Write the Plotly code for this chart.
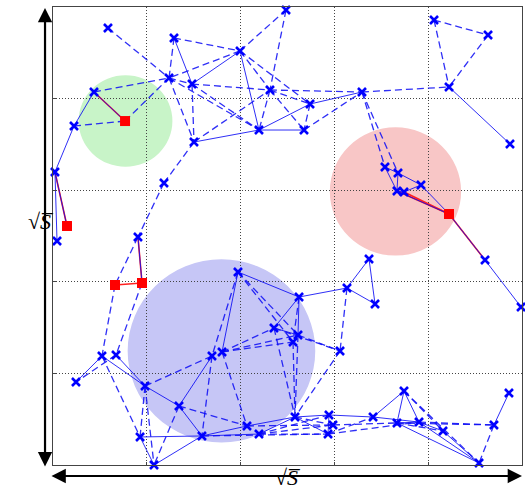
import plotly.graph_objects as go

# ---- data (node positions in grid units, 0..5 on both axes) ----
node_x = [0.586, 1.290, 1.994, 1.237, 1.482, 0.437, 0.224, 1.503, 2.196, 0.021,
          1.183, 0.043, 0.906, 2.484, 2.313, 2.740, 2.676, 3.294, 4.062, 4.638,
          4.222, 4.872, 3.539, 3.678, 3.923, 3.667, 4.606, 4.990, 1.972, 0.522,
          0.672, 0.245, 0.981, 1.695, 1.802, 1.343, 0.928, 1.588, 1.077, 2.068,
          2.196, 3.369, 3.134, 3.433, 2.623, 2.356, 2.612, 2.559, 3.060, 2.580,
          2.942, 2.985, 2.932, 3.412, 3.742, 3.667, 3.902, 4.158, 4.701, 4.861,
          4.542, 3.742]
node_y = [4.771, 4.662, 4.520, 4.225, 4.159, 4.072, 3.701, 3.526, 3.657, 3.199,
          3.079, 2.445, 2.489, 4.967, 4.094, 3.941, 3.657, 4.072, 4.858, 4.694,
          4.127, 3.504, 3.253, 3.188, 3.057, 2.991, 2.238, 1.725, 2.107, 1.190,
          1.201, 0.906, 0.862, 1.190, 1.234, 0.644, 0.306, 0.317, 0.000, 0.426,
          0.338, 2.249, 1.932, 1.758, 1.834, 1.496, 1.419, 1.343, 1.245, 0.524,
          0.546, 0.437, 0.338, 0.524, 0.808, 0.459, 0.469, 0.371, 0.437, 0.786,
          0.022, 2.980]

# red square nodes (numbered 63..67 after the blue nodes)
red_x = [0.768, 0.149, 0.661, 0.949, 4.222]
red_y = [3.755, 2.609, 1.965, 1.987, 2.740]

# circular regions: centre x, centre y, radius
circle_cx = [0.773, 3.651, 1.796]
circle_cy = [3.755, 2.986, 1.245]
circle_r = [0.50, 0.70, 1.00]
circle_colors = ["#c8f4c8", "#f8c6c6", "#c6c6f6"]

# edges (1-based node numbers)
solid_edges = [(2, 5), (3, 5), (3, 9), (6, 7), (7, 10), (10, 12), (8, 9), (9, 17), (9, 16),
               (16, 18), (21, 22), (23, 24), (23, 26), (24, 25), (24, 26), (25, 62), (26, 62),
               (27, 28), (29, 45), (29, 35), (42, 43), (42, 44), (43, 44), (43, 45), (45, 46),
               (45, 47), (46, 47), (30, 32), (30, 33), (31, 33), (33, 36), (36, 38), (37, 38),
               (37, 39), (38, 39), (34, 36), (38, 40), (38, 41), (40, 50), (41, 50), (50, 51),
               (51, 54), (51, 53), (50, 53), (54, 55), (55, 56), (55, 57), (56, 57), (54, 57),
               (57, 58), (58, 61), (57, 61), (56, 61), (59, 60), (67, 25), (67, 27), (6, 63),
               (13, 66), (10, 64), (67, 26)]
dashed_edges = [(1, 4), (2, 3), (2, 4), (3, 4), (3, 14), (3, 15), (3, 16), (14, 15), (4, 5),
                (4, 8), (5, 8), (5, 15), (15, 18), (4, 9), (5, 9), (8, 15), (15, 16), (15, 9),
                (15, 17), (16, 17), (17, 18), (6, 4), (7, 63), (63, 4), (8, 11), (11, 13),
                (13, 65), (65, 30), (66, 31), (19, 20), (19, 21), (20, 21), (18, 21), (18, 23),
                (18, 24), (29, 34), (29, 47), (29, 48), (35, 46), (35, 48), (35, 47), (46, 49),
                (47, 49), (43, 49), (49, 50), (46, 50), (47, 50), (48, 50), (45, 48), (31, 32),
                (30, 37), (33, 37), (33, 39), (33, 34), (36, 39), (34, 38), (36, 40), (35, 40),
                (41, 52), (41, 53), (40, 52), (41, 51), (52, 56), (53, 57), (53, 54), (55, 58),
                (56, 59), (57, 59), (59, 61), (56, 58), (38, 53), (50, 52), (55, 61)]
red_edges = [(6, 63), (10, 64), (65, 66), (13, 66), (67, 26), (67, 62), (67, 27)]

axis_label = "√<i>S\u0305</i>"

# ---- build ----
all_x = node_x + red_x
all_y = node_y + red_y


def segs(edges):
    xs, ys = [], []
    for a, b in edges:
        xs += [all_x[a - 1], all_x[b - 1], None]
        ys += [all_y[a - 1], all_y[b - 1], None]
    return xs, ys


fig = go.Figure()

rx, ry = segs(red_edges)
fig.add_trace(go.Scatter(x=rx, y=ry, mode="lines",
                         line=dict(color="#ff2020", width=1.6), hoverinfo="skip"))
sx, sy = segs(solid_edges)
fig.add_trace(go.Scatter(x=sx, y=sy, mode="lines",
                         line=dict(color="rgba(10,10,245,0.85)", width=1), hoverinfo="skip"))
dx, dy = segs(dashed_edges)
fig.add_trace(go.Scatter(x=dx, y=dy, mode="lines",
                         line=dict(color="rgba(10,10,245,0.85)", width=1.3, dash="7px,4px"),
                         hoverinfo="skip"))
fig.add_trace(go.Scatter(x=node_x, y=node_y, mode="markers", cliponaxis=False,
                         marker=dict(symbol="x-thin", size=8,
                                     line=dict(width=2.6, color="#0000ff"))))
fig.add_trace(go.Scatter(x=red_x, y=red_y, mode="markers", cliponaxis=False,
                         marker=dict(symbol="square", size=10, color="#ff0000",
                                     line=dict(width=0))))

for cx, cy, r, c in zip(circle_cx, circle_cy, circle_r, circle_colors):
    fig.add_shape(type="circle", xref="x", yref="y",
                  x0=cx - r, x1=cx + r, y0=cy - r, y1=cy + r,
                  fillcolor=c, line=dict(width=0), layer="below")

axis_common = dict(range=[0, 5], tickvals=[0, 1, 2, 3, 4, 5], showticklabels=False,
                   showgrid=True, gridcolor="#444444", griddash="1px,2px", gridwidth=1,
                   zeroline=False, showline=True, mirror=True, linecolor="#444444",
                   linewidth=1.2, ticks="inside", ticklen=3, tickcolor="#444444")

fig.update_layout(
    width=525, height=497,
    margin=dict(l=53, r=3, t=7, b=32),
    paper_bgcolor="white", plot_bgcolor="white",
    showlegend=False,
    xaxis=axis_common,
    yaxis=axis_common,
    font=dict(family="Liberation Serif, DejaVu Serif, serif", color="black"),
)

# double-headed axis arrows
fig.add_annotation(x=-0.017, y=0.998, xref="paper", yref="paper",
                   ax=0, ay=460, axref="pixel", ayref="pixel", text="",
                   showarrow=True, arrowhead=2, startarrowhead=2, arrowside="end+start",
                   arrowsize=1.3, startarrowsize=1.3, arrowwidth=2.2, arrowcolor="black",
                   standoff=0, startstandoff=0)
fig.add_annotation(x=1.0, y=-0.024, xref="paper", yref="paper",
                   ax=-472, ay=0, axref="pixel", ayref="pixel", text="",
                   showarrow=True, arrowhead=2, startarrowhead=2, arrowside="end+start",
                   arrowsize=1.3, startarrowsize=1.3, arrowwidth=2.2, arrowcolor="black",
                   standoff=0, startstandoff=0)

fig.add_annotation(x=-0.058, y=0.531, xref="paper", yref="paper", text=axis_label,
                   showarrow=False, font=dict(size=22))
fig.add_annotation(x=0.501, y=-0.058, xref="paper", yref="paper", text=axis_label,
                   showarrow=False, font=dict(size=22))

fig.write_html("out.html", config={"displayModeBar": False},
               post_script="document.body.style.margin='0px';")
